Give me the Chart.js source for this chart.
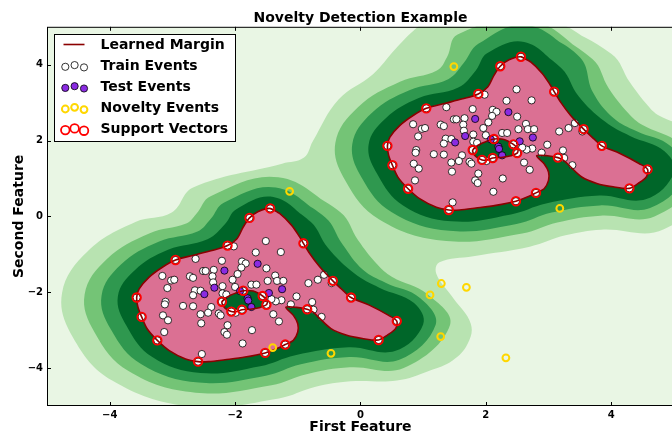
<!DOCTYPE html>
<html><head><meta charset="utf-8">
<script src="https://cdn.jsdelivr.net/npm/chart.js@4/dist/chart.umd.min.js"></script>
<style>
html,body{margin:0;padding:0;overflow:hidden;background:#fff;}
</style></head><body>
<canvas id="c" width="680" height="436"></canvas>
<script>
const xTicks = [-4, -2, 0, 2, 4];
const yTicks = [-4, -2, 0, 2, 4];
const legendLabels = ['Learned Margin', 'Train Events', 'Test Events', 'Novelty Events', 'Support Vectors'];

const trainUpper = [[2.49,3.35],[2.33,3.05],[1.98,3.21],[1.37,2.88],[1.79,2.83],[2.11,2.81],[2.17,2.76],[2.10,2.65],[2.50,2.63],[2.04,2.48],[1.49,2.56],[1.53,2.56],[1.66,2.59],[0.84,2.43],[0.98,2.31],[1.03,2.33],[1.28,2.42],[1.33,2.38],[1.64,2.42],[1.65,2.26],[1.96,2.33],[2.26,2.20],[2.34,2.20],[2.52,2.30],[2.64,2.44],[2.67,2.30],[2.77,2.30],[2.73,3.06],[0.92,2.11],[1.80,2.16],[2.00,2.14],[1.36,2.05],[1.45,2.04],[1.33,1.92],[1.80,1.97],[1.86,1.94],[0.89,1.75],[0.88,1.68],[1.17,1.64],[1.33,1.63],[1.62,1.61],[1.57,1.46],[1.45,1.42],[1.74,1.44],[1.77,1.39],[0.85,1.39],[0.93,1.26],[1.46,1.18],[1.88,1.13],[1.83,0.95],[1.87,0.88],[2.27,1.00],[0.87,0.95],[2.12,0.65],[1.47,0.37],[3.17,2.24],[3.32,2.33],[3.42,2.46],[3.54,2.24],[2.98,1.89],[2.89,1.68],[3.23,1.74],[3.25,1.54],[3.38,1.35],[2.74,1.79],[2.65,1.76],[2.58,1.82],[2.61,1.42],[2.70,1.23],[2.01,1.46]];
const trainLower = [[-1.51,-0.65],[-1.67,-0.95],[-2.02,-0.79],[-2.63,-1.12],[-2.21,-1.17],[-1.89,-1.19],[-1.83,-1.24],[-1.90,-1.35],[-1.50,-1.37],[-1.96,-1.52],[-2.51,-1.44],[-2.47,-1.44],[-2.34,-1.41],[-3.16,-1.57],[-3.02,-1.69],[-2.97,-1.67],[-2.72,-1.58],[-2.67,-1.62],[-2.36,-1.58],[-2.35,-1.74],[-2.04,-1.67],[-1.74,-1.80],[-1.66,-1.80],[-1.48,-1.70],[-1.36,-1.56],[-1.33,-1.70],[-1.23,-1.70],[-1.27,-0.94],[-3.08,-1.89],[-2.20,-1.84],[-2.00,-1.86],[-2.64,-1.95],[-2.55,-1.96],[-2.67,-2.08],[-2.20,-2.03],[-2.14,-2.06],[-3.11,-2.25],[-3.12,-2.32],[-2.83,-2.36],[-2.67,-2.37],[-2.38,-2.39],[-2.43,-2.54],[-2.55,-2.58],[-2.26,-2.56],[-2.23,-2.61],[-3.15,-2.61],[-3.07,-2.74],[-2.54,-2.82],[-2.12,-2.87],[-2.17,-3.05],[-2.13,-3.12],[-1.73,-3.00],[-3.13,-3.05],[-1.88,-3.35],[-2.53,-3.63],[-0.83,-1.76],[-0.68,-1.67],[-0.58,-1.54],[-0.46,-1.76],[-1.02,-2.11],[-1.11,-2.32],[-0.77,-2.26],[-0.75,-2.46],[-0.62,-2.65],[-1.26,-2.21],[-1.35,-2.24],[-1.42,-2.18],[-1.39,-2.58],[-1.30,-2.77],[-1.99,-2.54]];
const supportUpper = [[2.56,4.21],[2.23,3.96],[1.88,3.23],[3.09,3.29],[1.05,2.85],[0.43,1.86],[0.51,1.35],[0.76,0.73],[1.41,0.17],[2.48,0.40],[2.80,0.62],[3.56,2.30],[3.85,1.86],[4.58,1.24],[4.29,0.74],[3.15,1.55],[2.13,2.04],[1.79,1.75],[1.94,1.49],[2.11,1.54],[2.44,1.90],[2.50,1.67]];
const supportLower = [[-1.44,0.21],[-1.77,-0.04],[-2.12,-0.77],[-0.91,-0.71],[-2.95,-1.15],[-3.57,-2.14],[-3.49,-2.65],[-3.24,-3.27],[-2.59,-3.83],[-1.52,-3.60],[-1.20,-3.38],[-0.44,-1.70],[-0.15,-2.14],[0.58,-2.76],[0.29,-3.26],[-0.85,-2.45],[-1.87,-1.96],[-2.21,-2.25],[-2.06,-2.51],[-1.89,-2.46],[-1.56,-2.10],[-1.50,-2.33]];
const testUpper = [[2.36,2.75],[1.83,2.57],[1.67,2.12],[1.51,1.95],[2.08,2.03],[2.54,1.98],[2.75,2.08],[2.20,1.84],[2.21,1.78],[2.26,1.61]];
const testLower = [[-1.64,-1.25],[-2.17,-1.43],[-2.33,-1.88],[-2.49,-2.05],[-1.92,-1.97],[-1.46,-2.02],[-1.25,-1.92],[-1.80,-2.16],[-1.79,-2.22],[-1.74,-2.39]];
const novelty = [[1.49,3.95],[-1.13,0.66],[3.18,0.21],[1.29,-1.77],[1.11,-2.07],[1.69,-1.87],[1.28,-3.17],[2.32,-3.73],[-0.47,-3.61],[-1.40,-3.46]];

const marginUpper = [[2.56,4.21],[2.71,4.08],[2.90,3.77],[3.03,3.46],[3.09,3.29],[3.19,3.02],[3.35,2.67],[3.56,2.30],[3.72,2.05],[3.85,1.86],[4.14,1.66],[4.45,1.39],[4.58,1.24],[4.56,1.04],[4.43,0.87],[4.29,0.74],[4.03,0.78],[3.77,0.87],[3.53,1.04],[3.35,1.31],[3.24,1.48],[3.15,1.55],[2.98,1.60],[2.81,1.60],[2.93,1.39],[3.00,1.17],[3.00,0.95],[2.93,0.73],[2.80,0.62],[2.66,0.51],[2.48,0.40],[2.16,0.29],[1.84,0.22],[1.58,0.17],[1.41,0.17],[1.21,0.24],[0.95,0.46],[0.76,0.73],[0.60,1.03],[0.51,1.35],[0.45,1.61],[0.43,1.86],[0.47,2.09],[0.63,2.40],[0.84,2.66],[1.05,2.85],[1.32,2.97],[1.63,3.10],[1.88,3.23],[2.03,3.41],[2.13,3.72],[2.23,3.96],[2.37,4.13]];
const holeUpper = [[1.79,1.75],[1.87,1.87],[2.00,1.97],[2.13,2.04],[2.29,2.03],[2.44,1.90],[2.51,1.78],[2.50,1.67],[2.40,1.60],[2.27,1.56],[2.11,1.54],[2.03,1.49],[1.94,1.49],[1.84,1.58]];
const marginLower = [[-1.44,0.21],[-1.29,0.08],[-1.10,-0.23],[-0.97,-0.54],[-0.91,-0.71],[-0.81,-0.98],[-0.65,-1.33],[-0.44,-1.70],[-0.28,-1.95],[-0.15,-2.14],[0.14,-2.34],[0.45,-2.61],[0.58,-2.76],[0.56,-2.96],[0.43,-3.13],[0.29,-3.26],[0.03,-3.22],[-0.23,-3.13],[-0.47,-2.96],[-0.65,-2.69],[-0.76,-2.52],[-0.85,-2.45],[-1.02,-2.40],[-1.19,-2.40],[-1.07,-2.61],[-1.00,-2.83],[-1.00,-3.05],[-1.07,-3.27],[-1.20,-3.38],[-1.34,-3.49],[-1.52,-3.60],[-1.84,-3.71],[-2.16,-3.78],[-2.42,-3.83],[-2.59,-3.83],[-2.79,-3.76],[-3.05,-3.54],[-3.24,-3.27],[-3.40,-2.97],[-3.49,-2.65],[-3.55,-2.39],[-3.57,-2.14],[-3.53,-1.91],[-3.37,-1.60],[-3.16,-1.34],[-2.95,-1.15],[-2.68,-1.03],[-2.37,-0.90],[-2.12,-0.77],[-1.97,-0.59],[-1.87,-0.28],[-1.77,-0.04],[-1.63,0.13]];
const holeLower = [[-2.21,-2.25],[-2.13,-2.13],[-2.00,-2.03],[-1.87,-1.96],[-1.71,-1.97],[-1.56,-2.10],[-1.49,-2.22],[-1.50,-2.33],[-1.60,-2.40],[-1.73,-2.44],[-1.89,-2.46],[-1.97,-2.51],[-2.06,-2.51],[-2.16,-2.42]];

const lightBand = [[2.75,5.39],[4.00,4.29],[4.30,3.53],[4.59,2.91],[4.76,2.66],[5.35,2.19],[5.80,1.13],[4.84,-0.34],[3.84,-0.35],[3.27,-0.50],[2.70,-0.80],[1.80,-1.05],[1.26,-1.21],[1.21,-1.51],[1.47,-2.13],[1.76,-2.83],[1.71,-3.36],[1.47,-3.80],[1.10,-4.07],[0.58,-4.33],[-0.16,-4.35],[-0.73,-4.50],[-1.30,-4.80],[-2.68,-5.02],[-3.96,-4.33],[-4.59,-3.18],[-4.76,-2.02],[-4.35,-0.92],[-3.59,-0.15],[-3.01,0.10],[-2.67,0.76],[-1.25,1.39],[-0.90,1.55],[-0.76,1.98],[-0.35,3.08],[0.20,3.75],[0.55,4.40],[0.85,4.90],[1.30,5.50]];
const mediumUpper = [[2.69,5.20],[3.70,4.15],[3.96,3.38],[4.27,2.73],[4.50,2.41],[5.07,1.95],[5.43,1.14],[4.69,0.00],[3.83,0.02],[3.14,-0.16],[2.58,-0.45],[1.37,-0.65],[0.30,-0.08],[-0.24,0.94],[-0.40,1.94],[-0.04,2.88],[0.63,3.55],[1.22,3.85],[1.38,4.20],[1.55,4.80]];
const mediumLower = [[-1.31,1.03],[-0.32,0.11],[-0.04,-0.62],[0.27,-1.27],[0.50,-1.59],[1.07,-2.05],[1.43,-2.86],[0.69,-4.00],[-0.17,-3.98],[-0.86,-4.16],[-1.42,-4.45],[-2.63,-4.65],[-3.70,-4.08],[-4.24,-3.06],[-4.40,-2.06],[-4.04,-1.12],[-3.37,-0.45],[-2.78,-0.19],[-2.62,0.06],[-2.39,0.53]];
const midUpper = [[2.65,5.05],[3.50,4.20],[3.71,3.27],[4.04,2.59],[4.40,2.25],[4.95,1.85],[5.20,1.14],[4.62,0.22],[3.82,0.29],[3.05,0.10],[2.49,-0.20],[1.42,-0.38],[0.50,0.11],[0.02,1.02],[-0.13,1.91],[0.18,2.73],[0.78,3.33],[1.40,3.62],[1.65,4.05],[1.88,4.55]];
const midLower = [[-1.35,0.76],[-0.56,-0.03],[-0.29,-0.73],[0.04,-1.41],[0.40,-1.75],[0.95,-2.15],[1.20,-2.86],[0.62,-3.78],[-0.18,-3.71],[-0.95,-3.90],[-1.51,-4.20],[-2.58,-4.38],[-3.50,-3.89],[-3.98,-2.98],[-4.13,-2.09],[-3.82,-1.27],[-3.22,-0.67],[-2.60,-0.40],[-2.39,-0.07],[-2.18,0.36]];
const darkUpper = [[2.61,4.60],[3.21,3.90],[3.48,3.17],[3.90,2.50],[4.30,2.12],[4.85,1.72],[5.00,1.15],[4.55,0.45],[3.81,0.55],[2.96,0.34],[2.40,0.05],[1.45,-0.13],[0.68,0.29],[0.27,1.11],[0.13,1.89],[0.40,2.58],[0.93,3.12],[1.56,3.40],[1.84,3.85],[2.02,4.30]];
const darkLower = [[-1.39,0.51],[-0.79,-0.15],[-0.52,-0.83],[-0.10,-1.50],[0.30,-1.88],[0.85,-2.28],[1.00,-2.85],[0.55,-3.55],[-0.19,-3.45],[-1.04,-3.66],[-1.60,-3.95],[-2.55,-4.13],[-3.32,-3.71],[-3.73,-2.89],[-3.87,-2.11],[-3.60,-1.42],[-3.07,-0.88],[-2.44,-0.60],[-2.16,-0.20],[-1.98,0.19]];

// ---- styles ----
const C = {
  bg: '#e9f6e4', light: '#b8e3b1', medium: '#74c476', mid: '#2f984f', dark: '#006629',
  pink: '#db7093', margin: '#8b0000', test: '#8a2be2', novelty: '#ffd700', sv: '#ff0000'
};
const FONT = "'DejaVu Sans', sans-serif";
Chart.defaults.font.family = FONT;

const toXY = a => a.map(p => ({x: p[0], y: p[1]}));
const loop = a => toXY(a.concat([a[0], a[1]]));

const bands = [
  {data: lightBand, color: C.light},
  {data: mediumUpper, color: C.medium},
  {data: mediumLower, color: C.medium},
  {data: midUpper, color: C.mid},
  {data: midLower, color: C.mid},
  {data: darkUpper, color: C.dark},
  {data: darkLower, color: C.dark}
];

const datasets = [];
const bandIdx = [];
bands.forEach((b, i) => {
  bandIdx.push(datasets.length);
  datasets.push({label: 'band' + i, data: loop(b.data), showLine: true, borderWidth: 0,
    pointRadius: 0, pointHoverRadius: 0, tension: 0.4, order: 20});
});
const marginIdx = {};
[['outerU', marginUpper], ['holeU', holeUpper], ['outerL', marginLower], ['holeL', holeLower]].forEach(([k, arr]) => {
  marginIdx[k] = datasets.length;
  datasets.push({label: legendLabels[0], data: loop(arr), showLine: true, borderColor: C.margin,
    borderWidth: 1.6, pointRadius: 0, pointHoverRadius: 0, tension: 0.3, order: 2});
});
datasets.push({label: legendLabels[1], data: toXY(trainUpper.concat(supportUpper, trainLower, supportLower)),
  backgroundColor: '#ffffff', borderColor: '#000000', borderWidth: 0.8, pointRadius: 3.6, order: 4});
datasets.push({label: legendLabels[2], data: toXY(testUpper.concat(testLower)),
  backgroundColor: C.test, borderColor: '#000000', borderWidth: 0.8, pointRadius: 3.6, order: 3});
datasets.push({label: legendLabels[3], data: toXY(novelty),
  backgroundColor: 'rgba(0,0,0,0)', borderColor: C.novelty, borderWidth: 2, pointRadius: 3.4, order: 1});
datasets.push({label: legendLabels[4], data: toXY(supportUpper.concat(supportLower)),
  backgroundColor: 'rgba(0,0,0,0)', borderColor: C.sv, borderWidth: 1.8, pointRadius: 4.3, order: 0});

const contourPlugin = {
  id: 'contourFill',
  beforeDatasetsDraw(chart) {
    const ctx = chart.ctx, a = chart.chartArea;
    ctx.save();
    ctx.beginPath();
    ctx.rect(a.left, a.top, a.right - a.left, a.bottom - a.top);
    ctx.clip();
    ctx.fillStyle = C.bg;
    ctx.fillRect(a.left, a.top, a.right - a.left, a.bottom - a.top);
    const linePath = (idx) => {
      const el = chart.getDatasetMeta(idx).dataset;
      el.updateControlPoints(a, 'x');
      el.path(ctx);
      ctx.closePath();
    };
    bands.forEach((b, i) => {
      ctx.beginPath();
      linePath(bandIdx[i]);
      ctx.fillStyle = b.color;
      ctx.fill();
    });
    ctx.fillStyle = C.pink;
    ctx.beginPath(); linePath(marginIdx.outerU); linePath(marginIdx.holeU); ctx.fill('evenodd');
    ctx.beginPath(); linePath(marginIdx.outerL); linePath(marginIdx.holeL); ctx.fill('evenodd');
    ctx.restore();
  }
};

function drawMarker(ctx, kind, x, y) {
  ctx.beginPath();
  if (kind === 'train') { ctx.arc(x, y, 3.6, 0, Math.PI * 2); ctx.fillStyle = '#fff'; ctx.fill(); ctx.lineWidth = 0.8; ctx.strokeStyle = '#000'; ctx.stroke(); }
  else if (kind === 'test') { ctx.arc(x, y, 3.6, 0, Math.PI * 2); ctx.fillStyle = C.test; ctx.fill(); ctx.lineWidth = 0.8; ctx.strokeStyle = '#000'; ctx.stroke(); }
  else if (kind === 'novelty') { ctx.arc(x, y, 3.4, 0, Math.PI * 2); ctx.lineWidth = 2; ctx.strokeStyle = C.novelty; ctx.stroke(); }
  else if (kind === 'sv') { ctx.arc(x, y, 4.3, 0, Math.PI * 2); ctx.lineWidth = 1.8; ctx.strokeStyle = C.sv; ctx.stroke(); }
}

const framePlugin = {
  id: 'frameAndLegend',
  afterDatasetsDraw(chart) {
    const ctx = chart.ctx, a = chart.chartArea;
    const xs = chart.scales.x, ys = chart.scales.y;
    ctx.save();
    ctx.strokeStyle = '#000'; ctx.lineWidth = 1;
    ctx.strokeRect(a.left + 0.5, a.top + 0.5, a.right - a.left - 1, a.bottom - a.top - 1);
    ctx.beginPath();
    xTicks.forEach(v => {
      const px = Math.round(xs.getPixelForValue(v)) + 0.5;
      ctx.moveTo(px, a.bottom); ctx.lineTo(px, a.bottom - 4);
      ctx.moveTo(px, a.top); ctx.lineTo(px, a.top + 4);
    });
    yTicks.forEach(v => {
      const py = Math.round(ys.getPixelForValue(v)) + 0.5;
      ctx.moveTo(a.left, py); ctx.lineTo(a.left + 4, py);
    });
    ctx.stroke();
    ctx.restore();
  },
  afterDraw(chart) {
    const ctx = chart.ctx;
    ctx.save();
    const bx = 54.5, by = 34.5, bw = 181, bh = 107;
    ctx.fillStyle = '#fff'; ctx.fillRect(bx, by, bw, bh);
    ctx.strokeStyle = '#000'; ctx.lineWidth = 1; ctx.strokeRect(bx, by, bw, bh);
    const kinds = ['line', 'train', 'test', 'novelty', 'sv'];
    const mx = [65.3, 74.6, 84];
    const my = [1.2, -0.5, 1.8];
    legendLabels.forEach((lab, i) => {
      const cy = 44.5 + i * 21.1;
      if (kinds[i] === 'line') {
        ctx.beginPath(); ctx.moveTo(63.5, cy); ctx.lineTo(84.5, cy);
        ctx.strokeStyle = C.margin; ctx.lineWidth = 1.6; ctx.stroke();
      } else {
        mx.forEach((x, j) => drawMarker(ctx, kinds[i], x, cy + my[j]));
      }
      ctx.fillStyle = '#000';
      ctx.font = 'bold 14px ' + FONT;
      ctx.textBaseline = 'middle';
      ctx.textAlign = 'left';
      ctx.fillText(lab, 100.5, cy + 0.5);
    });
    ctx.restore();
  }
};

const fmt = v => (v < 0 ? '\u2212' + Math.abs(v) : String(v));

new Chart(document.getElementById('c'), {
  type: 'scatter',
  data: {datasets},
  options: {
    responsive: false,
    animation: false,
    devicePixelRatio: 1,
    events: [],
    elements: {line: {capBezierPoints: false}},
    layout: {padding: {left: 0, right: 1, top: 0, bottom: 0}},
    plugins: {
      legend: {display: false},
      tooltip: {enabled: false},
      title: {display: true, fullSize: false, text: 'Novelty Detection Example', color: '#000',
        font: {size: 14, weight: 'bold', family: FONT}, padding: {top: 10, bottom: 0}}
    },
    scales: {
      x: {
        type: 'linear', min: -5, max: 5,
        afterBuildTicks: s => { s.ticks = xTicks.map(v => ({value: v})); },
        afterFit: s => { s.height = 30; },
        grid: {display: false, drawTicks: false},
        border: {display: false},
        ticks: {padding: 3, color: '#000', font: {size: 10, weight: 'bold'}, callback: fmt, maxRotation: 0, autoSkip: false},
        title: {display: true, text: 'First Feature', color: '#000', font: {size: 14, weight: 'bold'}, padding: {top: 0, bottom: 0}}
      },
      y: {
        type: 'linear', min: -5, max: 5,
        afterBuildTicks: s => { s.ticks = yTicks.map(v => ({value: v})); },
        afterFit: s => { s.width = 47; },
        grid: {display: false, drawTicks: false},
        border: {display: false},
        ticks: {padding: 4, color: '#000', font: {size: 10, weight: 'bold'}, callback: fmt, autoSkip: false},
        title: {display: true, text: 'Second Feature', color: '#000', font: {size: 14, weight: 'bold'}, padding: {top: 11, bottom: 0}}
      }
    }
  },
  plugins: [contourPlugin, framePlugin]
});
</script>
</body></html>
